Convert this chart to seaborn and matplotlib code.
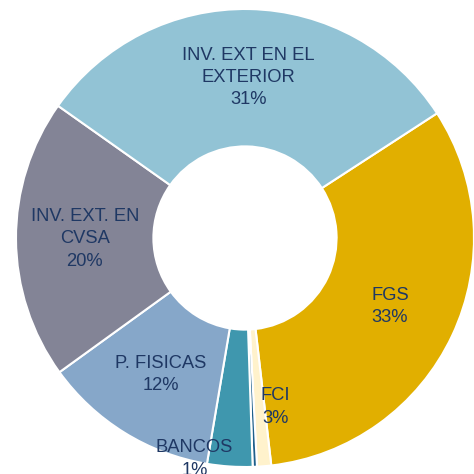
import numpy as np
import matplotlib
matplotlib.use("Agg")
import matplotlib.pyplot as plt
import seaborn as sns

# ---- data ----
categories = ["FGS", "FCI", "OTROS", "BANCOS", "P. FISICAS", "INV. EXT. EN\nCVSA", "INV. EXT EN EL\nEXTERIOR"]
values = [32.4, 1.0, 0.3, 3.2, 12.4, 19.8, 31.1]
pct_labels = ["33%", "3%", "", "1%", "12%", "20%", "31%"]
colors = ["#E1AF00", "#FFF2CC", "#1F5F8B", "#3F97AE", "#86A7C9", "#838496", "#92C3D5"]

sns.set_theme(style="white")
plt.rcParams['font.family'] = ['Liberation Sans', 'DejaVu Sans']

fig = plt.figure(figsize=(4.74, 4.74), dpi=100)
ax = fig.add_axes([0, 0, 1, 1])

wedges, _ = ax.pie(values, colors=colors, startangle=33, counterclock=False,
                   radius=1.0, wedgeprops=dict(width=0.6, edgecolor="white", linewidth=1.5))

# label placement: (angle shift in degrees, radius)
placement = {1: (5.5, 0.75), 3: (-9.0, 0.99)}
txt_color = "#1F3864"
for i, w in enumerate(wedges):
    if not pct_labels[i]:
        continue
    mid = (w.theta1 + w.theta2) / 2.0
    dang, r = placement.get(i, (0.0, 0.70))
    a = np.deg2rad(mid + dang)
    ax.text(r * np.cos(a), r * np.sin(a), f"{categories[i]}\n{pct_labels[i]}",
            ha="center", va="center", fontsize=13.2, color=txt_color, linespacing=1.4)

ax.set_xlim(-245 / 229, (474 - 245) / 229)
ax.set_ylim(-(474 - 238) / 229, 238 / 229)
ax.axis("off")
fig.savefig("out.png", dpi=100)
